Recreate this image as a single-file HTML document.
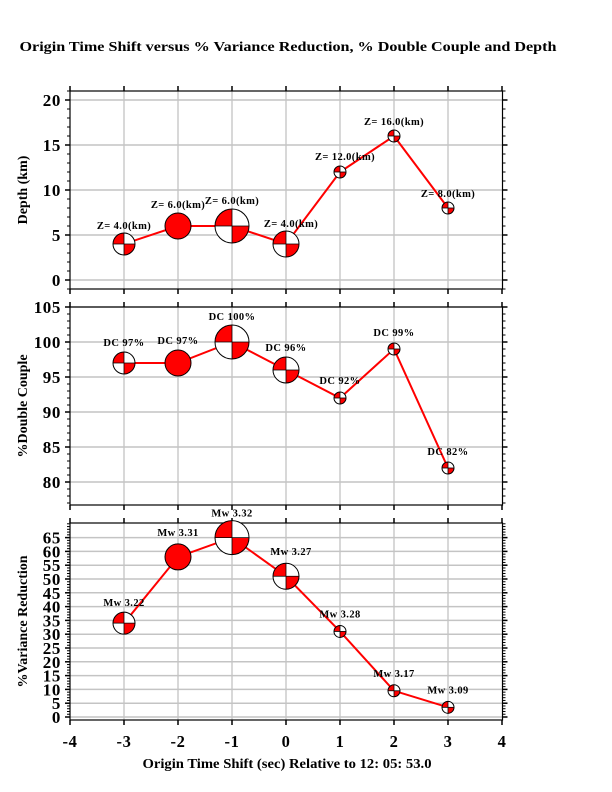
<!DOCTYPE html>
<html><head><meta charset="utf-8"><style>
html,body{margin:0;padding:0;background:#fff;}
svg{display:block;font-family:"Liberation Serif",serif;font-weight:bold;}
</style></head><body>
<svg id="s" width="612" height="792" xmlns="http://www.w3.org/2000/svg"></svg>
<script>
var o='';
var X0=70,X1=502.5;function xp(v){return 286+54*v;}
o+='<text x="288" y="51" text-anchor="middle" font-size="14" textLength="537" lengthAdjust="spacingAndGlyphs">Origin Time Shift versus % Variance Reduction, % Double Couple and Depth</text>';
function panel(top,bot,y0,k,v0,vmin,vmax,major,labels,ylab,fs){
 function yp(v){return y0-k*(v-v0);}
 for(var i=-3;i<=3;i++)o+='<line x1="'+xp(i)+'" y1="'+top+'" x2="'+xp(i)+'" y2="'+bot+'" stroke="#bdbdbd" stroke-width="1.2"/>';
 labels.forEach(function(v){o+='<line x1="'+X0+'" y1="'+yp(v)+'" x2="'+X1+'" y2="'+yp(v)+'" stroke="#c4c4c4" stroke-width="1.5"/>';
  o+='<line x1="'+(X0-5)+'" y1="'+yp(v)+'" x2="'+X0+'" y2="'+yp(v)+'" stroke="#000" stroke-width="1.5"/>';
  o+='<line x1="'+X1+'" y1="'+yp(v)+'" x2="'+(X1+5)+'" y2="'+yp(v)+'" stroke="#000" stroke-width="1.5"/>';
  o+='<text x="'+(X0-9)+'" y="'+(yp(v)+6)+'" text-anchor="end" font-size="'+fs+'" letter-spacing="0.6">'+v+'</text>';});
 for(var v=vmin;v<=vmax;v++){var y=yp(v);if(y<top||y>bot)continue;
  o+='<line x1="'+(X0-3)+'" y1="'+y+'" x2="'+X0+'" y2="'+y+'" stroke="#000" stroke-width="1"/>';
  o+='<line x1="'+X1+'" y1="'+y+'" x2="'+(X1+3)+'" y2="'+y+'" stroke="#000" stroke-width="1"/>';}
 for(var i=-4;i<=4;i++){o+='<line x1="'+xp(i)+'" y1="'+(top-5)+'" x2="'+xp(i)+'" y2="'+top+'" stroke="#000" stroke-width="1.5"/>';
  o+='<line x1="'+xp(i)+'" y1="'+bot+'" x2="'+xp(i)+'" y2="'+(bot+5)+'" stroke="#000" stroke-width="1.5"/>';}
 o+='<rect x="'+X0+'" y="'+top+'" width="'+(X1-X0)+'" height="'+(bot-top)+'" fill="none" stroke="#000" stroke-width="1.2"/>';
 var cy=(top+bot)/2;
 o+='<text transform="translate(27,'+cy+') rotate(-90)" text-anchor="middle" font-size="14">'+ylab+'</text>';
 return yp;
}
function ball(x,y,r,type){
 var s='<g transform="translate('+x+','+y+')">';
 if(type=='full'){s+='<circle r="'+r+'" fill="#f00" stroke="#000" stroke-width="1"/>';}
 else{s+='<circle r="'+r+'" fill="#fff"/>';
  s+='<path d="M0,0 L'+(-r)+',0 A'+r+','+r+' 0 0 1 0,'+(-r)+' Z" fill="#f00"/>';
  s+='<path d="M0,0 L'+r+',0 A'+r+','+r+' 0 0 1 0,'+r+' Z" fill="#f00"/>';
  s+='<line x1="'+(-r)+'" y1="0" x2="'+r+'" y2="0" stroke="#000" stroke-width="0.8"/><line x1="0" y1="'+(-r)+'" x2="0" y2="'+r+'" stroke="#000" stroke-width="0.8"/>';
  s+='<circle r="'+r+'" fill="none" stroke="#000" stroke-width="1"/>';}
 return s+'</g>';
}
var radii=[11,13,17,13,6,6,6];
function series(yp,vals,labs,fsz,dy){
 var pts=vals.map(function(v,i){return xp(i-3)+','+yp(v);}).join(' ');
 o+='<polyline points="'+pts+'" fill="none" stroke="#f00" stroke-width="2"/>';
 vals.forEach(function(v,i){o+=ball(xp(i-3),yp(v),radii[i],i==1?'full':'q');
  o+='<text x="'+(xp(i-3)+(dy[i][0]||0))+'" y="'+(yp(v)-radii[i]-dy[i][1])+'" text-anchor="middle" font-size="'+fsz+'" letter-spacing="0.4">'+labs[i]+'</text>';});
}
var yp1=panel(91,289,280,9,0,-1,21,[],[0,5,10,15,20],'Depth (km)',17);
series(yp1,[4,6,6,4,12,16,8],['Z= 4.0(km)','Z= 6.0(km)','Z= 6.0(km)','Z= 4.0(km)','Z= 12.0(km)','Z= 16.0(km)','Z= 8.0(km)'],10.5,[[0,4],[0,5],[0,5],[5,4],[5,6],[0,5],[0,5]]);
var yp2=panel(307,505,342,7,100,77,105,[],[80,85,90,95,100,105],'%Double Couple',17);
series(yp2,[97,97,100,96,92,99,82],['DC 97%','DC 97%','DC 100%','DC 96%','DC 92%','DC 99%','DC 82%'],10.5,[[0,6],[0,6],[0,5],[0,6],[0,8],[0,7],[0,7]]);
var yp3=panel(523,720,717,2.76,0,0,73,[],[0,5,10,15,20,25,30,35,40,45,50,55,60,65],'%Variance Reduction',17);
series(yp3,[34,58,65,51,31,9.5,3.5],['Mw 3.22','Mw 3.31','Mw 3.32','Mw 3.27','Mw 3.28','Mw 3.17','Mw 3.09'],10.5,[[0,6],[0,8],[0,4],[5,8],[0,8],[0,8],[0,8]]);
for(var i=-4;i<=4;i++)o+='<text x="'+xp(i)+'" y="747" text-anchor="middle" font-size="16.5" letter-spacing="0.6">'+i+'</text>';
o+='<text x="287" y="768" text-anchor="middle" font-size="14" textLength="289" lengthAdjust="spacingAndGlyphs">Origin Time Shift (sec) Relative to 12: 05: 53.0</text>';
document.getElementById('s').innerHTML=o;
</script>
</body></html>
